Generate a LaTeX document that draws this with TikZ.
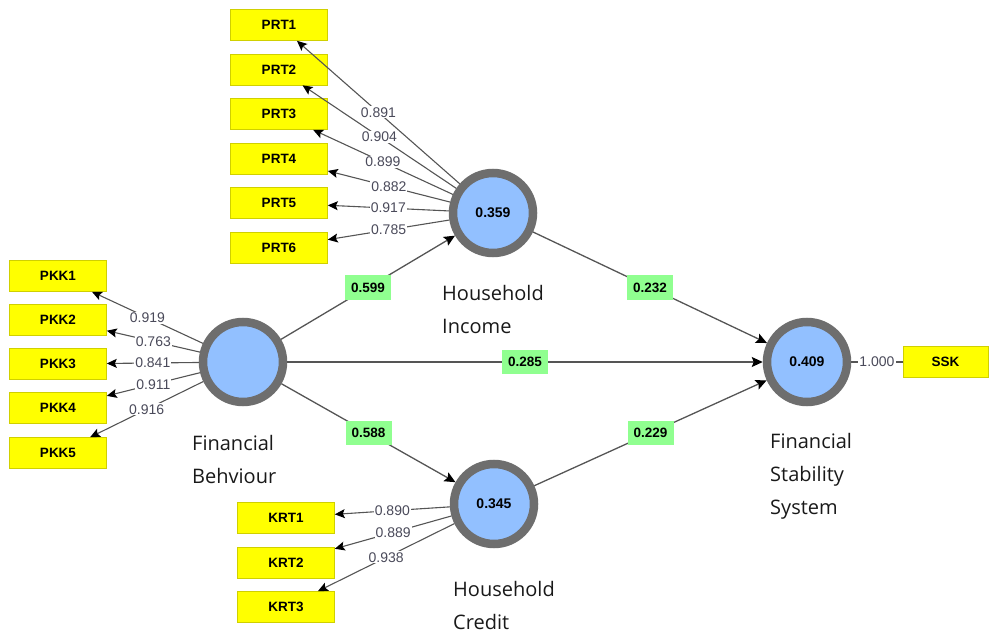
\documentclass[tikz,border=0pt]{standalone}
\usepackage{fontspec}
\setmainfont{Liberation Sans}
\newfontfamily\lblfont{Open Sans}
\usetikzlibrary{arrows.meta}
\definecolor{ringgray}{HTML}{6E6E6E}
\definecolor{lvblue}{HTML}{92C0FF}
\definecolor{indyellow}{HTML}{FFFF00}
\definecolor{indborder}{HTML}{D0D000}
\definecolor{pathgreen}{HTML}{90FF90}
\definecolor{linegray}{HTML}{555555}
\definecolor{valgray}{HTML}{4A4A5A}
\begin{document}
\begin{tikzpicture}[x=1pt,y=-1pt,
 latent/.style={circle, draw=ringgray, line width=8.5pt, fill=lvblue, minimum size=80pt, inner sep=0pt, outer sep=4.25pt, font=\bfseries\fontsize{14}{16}\selectfont},
 indicator/.style={rectangle, draw=indborder, line width=0.6pt, fill=indyellow, minimum width=97pt, minimum height=31pt, inner sep=0pt, outer sep=0.3pt, font=\bfseries\fontsize{13.5}{15}\selectfont},
 lvname/.style={anchor=north west, align=left, inner sep=0pt, text=black!90, font=\lblfont\fontsize{20}{33}\selectfont},
 loading/.style={draw=linegray, line width=1.1pt, -{Stealth[length=10pt,width=9pt,inset=2pt,color=black]}},
 loadval/.style={fill=white, inner sep=1pt, text=valgray, font=\fontsize{14}{16}\selectfont},
 structural/.style={draw=linegray, line width=1.3pt, -{Stealth[length=11pt,width=10pt,inset=2pt,color=black]}},
 coef/.style={fill=pathgreen, minimum width=46pt, minimum height=24pt, inner sep=0pt, text=black, font=\bfseries\fontsize{13.5}{15}\selectfont}
]
\useasboundingbox (0,0) rectangle (990,636);

% latent variables
\node[latent] (FB) at (243,362) {};
\node[latent] (HI) at (493,213) {0.359};
\node[latent] (HC) at (494,504) {0.345};
\node[latent] (FSS) at (807,362) {0.409};

% indicators
\node[indicator] (PRT1) at (279,25) {PRT1};
\node[indicator] (PRT2) at (279,69.5) {PRT2};
\node[indicator] (PRT3) at (279,114) {PRT3};
\node[indicator] (PRT4) at (279,158.5) {PRT4};
\node[indicator] (PRT5) at (279,203) {PRT5};
\node[indicator] (PRT6) at (279,247.5) {PRT6};

\node[indicator] (PKK1) at (58,276) {PKK1};
\node[indicator] (PKK2) at (58,319.5) {PKK2};
\node[indicator] (PKK3) at (58,364) {PKK3};
\node[indicator] (PKK4) at (58,408) {PKK4};
\node[indicator] (PKK5) at (58,453) {PKK5};

\node[indicator] (KRT1) at (286,517.5) {KRT1};
\node[indicator] (KRT2) at (286,562.5) {KRT2};
\node[indicator] (KRT3) at (286,607) {KRT3};

\node[indicator, minimum width=85pt] (SSK) at (945.5,362) {SSK};

% construct names
\node[lvname] (HIlbl) at (442,285) {Household\\Income};
\node[lvname] (HClbl) at (453,581) {Household\\Credit};
\node[lvname] (FBlbl) at (192,435) {Financial\\Behviour};
\node[lvname] (FSSlbl) at (770,433) {Financial\\Stability\\System};

% outer loadings
\draw[loading] (HI) -- node[loadval] {0.891} (PRT1);
\draw[loading] (HI) -- node[loadval] {0.904} (PRT2);
\draw[loading] (HI) -- node[loadval] {0.899} (PRT3);
\draw[loading] (HI) -- node[loadval] {0.882} (PRT4);
\draw[loading] (HI) -- node[loadval] {0.917} (PRT5);
\draw[loading] (HI) -- node[loadval] {0.785} (PRT6);

\draw[loading] (FB) -- node[loadval] {0.919} (PKK1);
\draw[loading] (FB) -- node[loadval] {0.763} (PKK2);
\draw[loading] (FB) -- node[loadval] {0.841} (PKK3);
\draw[loading] (FB) -- node[loadval] {0.911} (PKK4);
\draw[loading] (FB) -- node[loadval] {0.916} (PKK5);

\draw[loading] (HC) -- node[loadval] {0.890} (KRT1);
\draw[loading] (HC) -- node[loadval] {0.889} (KRT2);
\draw[loading] (HC) -- node[loadval] {0.938} (KRT3);

\draw[draw=linegray, line width=1.1pt] (FSS) -- node[loadval] {1.000} (SSK);

% structural paths
\draw[structural] (FB) -- node[coef] {0.599} (HI);
\draw[structural] (FB) -- node[coef] {0.285} (FSS);
\draw[structural] (FB) -- node[coef] {0.588} (HC);
\draw[structural] (HI) -- node[coef] {0.232} (FSS);
\draw[structural] (HC) -- node[coef] {0.229} (FSS);
\end{tikzpicture}
\end{document}
